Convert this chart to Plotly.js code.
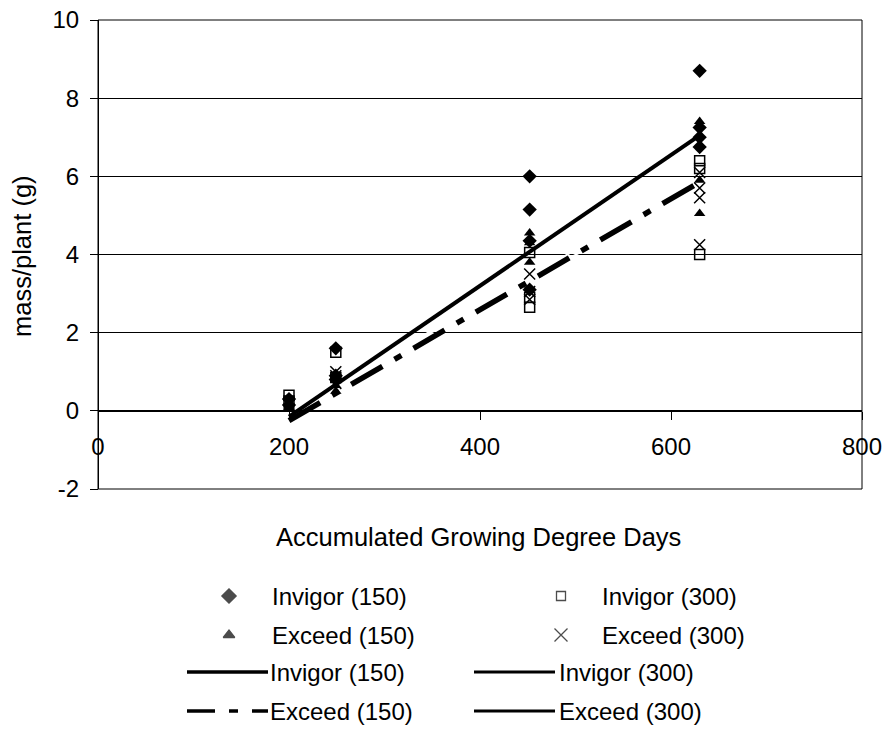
<!DOCTYPE html>
<html>
<head>
<meta charset="utf-8">
<script src="https://cdn.plot.ly/plotly-3.0.1.min.js"></script>
<style>html,body{margin:0;padding:0;background:#fff;}#chart{width:887px;height:734px;}</style>
</head>
<body>
<div id="chart"></div>
<script>
// ---- data ----
const invigor150X = [200, 200, 249, 249, 249, 452, 452, 452, 452, 630, 630, 630, 630];
const invigor150Y = [0.3, 0.15, 1.6, 0.9, 0.8, 6.0, 5.15, 4.35, 3.1, 8.7, 7.25, 7.0, 6.75];
const invigor300X = [200, 200, 249, 249, 452, 452, 452, 630, 630, 630];
const invigor300Y = [0.4, 0.25, 1.5, 0.85, 4.05, 2.9, 2.65, 6.4, 6.2, 4.0];
const exceed150X = [200, 200, 249, 249, 249, 452, 452, 452, 630, 630, 630, 630];
const exceed150Y = [0.1, 0.05, 0.5, 0.65, 0.8, 4.55, 4.3, 3.8, 7.4, 7.3, 5.9, 5.05];
const exceed300X = [200, 200, 249, 249, 249, 452, 452, 452, 630, 630, 630, 630];
const exceed300Y = [0.2, 0.15, 0.7, 0.9, 1.0, 3.5, 3.05, 2.85, 6.1, 5.7, 5.45, 4.25];

const trendX = [200, 630];
const invigor150Trend = [-0.15, 7.05];
const exceed150Trend = [-0.25, 5.85];
const invigor300Trend = [0.0, 5.9];
const exceed300Trend = [0.05, 5.7];

const xTickVals = [0, 200, 400, 600, 800];
const xTickText = ['0', '200', '400', '600', '800'];
const yTickVals = [-2, 0, 2, 4, 6, 8, 10];
const yTickText = ['-2', '0', '2', '4', '6', '8', '10'];
const legendMarkerNames = ['Invigor (150)', 'Exceed (150)', 'Invigor (300)', 'Exceed (300)'];
const legendLineNames = ['Invigor (150)', 'Exceed (150)', 'Invigor (300)', 'Exceed (300)'];

// ---- layout constants ----
const W = 887, H = 734;
const plotL = 98, plotR = 862, plotT = 20, plotB = 489;
const FONT = 'Liberation Sans, Arial, sans-serif';
const tickFontSize = 24;
const yDom = [(H - plotB) / H, (H - plotT) / H];
const yRange = [-2, 10];
const zeroPos = yDom[0] + (yDom[1] - yDom[0]) * (0 - yRange[0]) / (yRange[1] - yRange[0]);
const DASHDOT = '36px,14px,8px,14px';

const traces = [];
// hidden (white) 300 trend lines, drawn first
traces.push({x: trendX, y: invigor300Trend, mode: 'lines', line: {color: '#ffffff', width: 2}, showlegend: false, hoverinfo: 'skip'});
traces.push({x: trendX, y: exceed300Trend, mode: 'lines', line: {color: '#ffffff', width: 2}, showlegend: false, hoverinfo: 'skip'});
// points
traces.push({x: invigor150X, y: invigor150Y, mode: 'markers', name: 'Invigor (150)', marker: {symbol: 'diamond', size: 11, color: '#000'}, showlegend: false});
traces.push({x: invigor300X, y: invigor300Y, mode: 'markers', name: 'Invigor (300)', marker: {symbol: 'square-open', size: 10, color: '#000', line: {width: 1.5, color: '#000'}}, showlegend: false});
traces.push({x: exceed150X, y: exceed150Y, mode: 'markers', name: 'Exceed (150)', marker: {symbol: 'triangle-up', size: 10, color: '#000'}, showlegend: false});
traces.push({x: exceed300X, y: exceed300Y, mode: 'markers', name: 'Exceed (300)', marker: {symbol: 'x-thin-open', size: 11, color: '#000', line: {width: 1.5, color: '#000'}}, showlegend: false});
// trend lines
traces.push({x: trendX, y: invigor150Trend, mode: 'lines', name: 'Invigor (150)', line: {color: '#000', width: 4}, showlegend: false});
traces.push({x: trendX, y: exceed150Trend, mode: 'lines', name: 'Exceed (150)', line: {color: '#000', width: 5.5, dash: DASHDOT}, showlegend: false});

// ---- custom legend on a pixel overlay axis (x2/y2) ----
const rowY = [596, 635, 672, 711];
const col1Glyph = 229, col2Glyph = 561;
const col1Text = 270, col2TextMarker = 600, col2TextLine = 557;
const lineSeg1 = [187, 268], lineSeg2 = [474, 555];

traces.push({
  x: [col1Glyph, col1Glyph, col2Glyph, col2Glyph], y: [rowY[0], rowY[1], rowY[0], rowY[1]],
  xaxis: 'x2', yaxis: 'y2', mode: 'markers', showlegend: false, hoverinfo: 'skip', cliponaxis: false,
  marker: {symbol: ['diamond', 'triangle-up', 'square-open', 'x-thin-open'], size: [11, 10, 9, 13], color: '#000', line: {width: 1.3, color: '#000'}}
});
traces.push({x: lineSeg1, y: [rowY[2], rowY[2]], xaxis: 'x2', yaxis: 'y2', mode: 'lines', line: {color: '#000', width: 3.5}, showlegend: false, hoverinfo: 'skip'});
traces.push({x: lineSeg1, y: [rowY[3], rowY[3]], xaxis: 'x2', yaxis: 'y2', mode: 'lines', line: {color: '#000', width: 3.5, dash: '28px,14px,9px,14px,16px,20px'}, showlegend: false, hoverinfo: 'skip'});
traces.push({x: lineSeg2, y: [rowY[2], rowY[2]], xaxis: 'x2', yaxis: 'y2', mode: 'lines', line: {color: '#000', width: 3}, showlegend: false, hoverinfo: 'skip'});
traces.push({x: lineSeg2, y: [rowY[3], rowY[3]], xaxis: 'x2', yaxis: 'y2', mode: 'lines', line: {color: '#000', width: 3}, showlegend: false, hoverinfo: 'skip'});

const ann = [];
const textStyle = {family: FONT, size: tickFontSize, color: '#000'};
function addText(txt, x, y) {
  ann.push({text: txt, x: x, y: y, xref: 'x2', yref: 'y2', xanchor: 'left', yanchor: 'middle', showarrow: false, font: textStyle});
}
addText(legendMarkerNames[0], col1Text, rowY[0]);
addText(legendMarkerNames[1], col1Text, rowY[1]);
addText(legendMarkerNames[2], col2TextMarker, rowY[0]);
addText(legendMarkerNames[3], col2TextMarker, rowY[1]);
addText(legendLineNames[0], col1Text - 2, rowY[2]);
addText(legendLineNames[1], col1Text - 2, rowY[3]);
addText(legendLineNames[2], col2TextLine, rowY[2]);
addText(legendLineNames[3], col2TextLine, rowY[3]);
// axis titles
ann.push({text: 'Accumulated Growing Degree Days', x: 478, y: 537, xref: 'x2', yref: 'y2', xanchor: 'center', yanchor: 'middle', showarrow: false, font: {family: FONT, size: 25.5, color: '#000'}});
ann.push({text: 'mass/plant (g)', x: 22, y: 256, xref: 'x2', yref: 'y2', xanchor: 'center', yanchor: 'middle', textangle: -90, showarrow: false, font: {family: FONT, size: 25.5, color: '#000'}});

const layout = {
  width: W, height: H,
  margin: {l: 0, r: 0, t: 0, b: 0, pad: 0},
  paper_bgcolor: '#ffffff', plot_bgcolor: 'rgba(0,0,0,0)',
  showlegend: false,
  font: {family: FONT, color: '#000'},
  xaxis: {
    domain: [plotL / W, plotR / W], range: [0, 800], tickvals: xTickVals, ticktext: xTickText,
    anchor: 'free', position: zeroPos,
    showline: true, linecolor: '#000', linewidth: 1,
    ticks: 'outside', ticklen: 8, tickcolor: '#000', tickwidth: 1,
    showgrid: false, zeroline: false,
    tickfont: {family: FONT, size: tickFontSize, color: '#000'},
    ticklabelstandoff: 6, automargin: false
  },
  yaxis: {
    domain: yDom, range: yRange, tickvals: yTickVals, ticktext: yTickText,
    anchor: 'free', position: plotL / W,
    showline: true, linecolor: '#000', linewidth: 1,
    ticks: 'outside', ticklen: 8, tickcolor: '#000', tickwidth: 1,
    showgrid: true, gridcolor: '#000', gridwidth: 1, zeroline: false,
    tickfont: {family: FONT, size: tickFontSize, color: '#000'},
    ticklabelstandoff: 6, automargin: false
  },
  xaxis2: {domain: [0, 1], range: [0, W], visible: false, fixedrange: true, anchor: 'y2'},
  yaxis2: {domain: [0, 1], range: [H, 0], visible: false, fixedrange: true, anchor: 'x2'},
  shapes: [
    {type: 'rect', xref: 'x domain', yref: 'y domain', x0: 0, x1: 1, y0: 0, y1: 1, line: {color: '#000', width: 1}, layer: 'below'}
  ],
  annotations: ann
};

Plotly.newPlot('chart', traces, layout, {displayModeBar: false, staticPlot: true});
</script>
</body>
</html>
